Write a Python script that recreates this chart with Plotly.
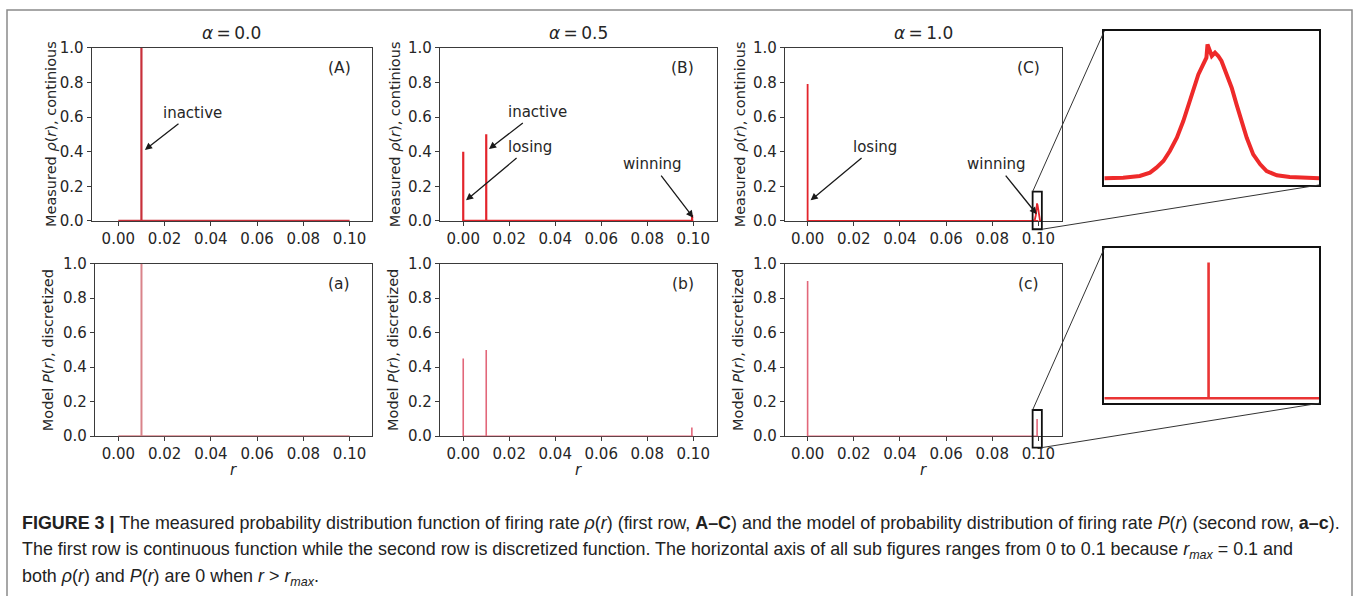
import plotly.graph_objects as go

W, H = 1360, 596

# ---------------- data ----------------
r_ticks = [0.0, 0.02, 0.04, 0.06, 0.08, 0.10]
r_tick_labels = ["0.00", "0.02", "0.04", "0.06", "0.08", "0.10"]
p_ticks = [0.0, 0.2, 0.4, 0.6, 0.8, 1.0]
p_tick_labels = ["0.0", "0.2", "0.4", "0.6", "0.8", "1.0"]

alpha_labels = ["0.0", "0.5", "1.0"]
r_support = [0.0, 0.1]          # rho(r)=P(r)=0 baseline over [0, r_max]

# first row: measured rho(r), continuous
meas_A_r = [0.01]
meas_A_rho = [1.0]
meas_B_r = [0.0, 0.01, 0.0995]
meas_B_rho = [0.40, 0.50, 0.035]
meas_C_r = [0.0]
meas_C_rho = [0.79]
# "winning" bump for alpha = 1.0
bump_r = [0.09750, 0.09785, 0.09816, 0.09835, 0.09847, 0.09860, 0.09872, 0.09885,
          0.09897, 0.09909, 0.09916, 0.09925, 0.09934, 0.09940, 0.09942, 0.09950,
          0.09956, 0.09962, 0.09968, 0.09978, 0.09987, 0.09996, 0.10006, 0.10015,
          0.10027, 0.10040, 0.10052, 0.10071, 0.10095, 0.10150]
bump_rho = [0.0000, 0.0005, 0.0018, 0.0043, 0.0081, 0.0131, 0.0207, 0.0307,
            0.0433, 0.0585, 0.0685, 0.0786, 0.0862, 0.0912, 0.1013, 0.0925,
            0.0950, 0.0925, 0.0887, 0.0786, 0.0685, 0.0559, 0.0433, 0.0307,
            0.0181, 0.0106, 0.0055, 0.0023, 0.0010, 0.0000]

# second row: model P(r), discretized
model_a_r = [0.01]
model_a_P = [1.0]
model_b_r = [0.0, 0.01, 0.0994]
model_b_P = [0.45, 0.50, 0.05]
model_c_r = [0.0, 0.09944]
model_c_P = [0.90, 0.10]

# ---------------- helpers ----------------
def px(x):
    return x / W

def vy(T):
    # vertical placement (target pixel from top -> paper fraction)
    return 1 - ((T - 8.0) / 0.97) / H

def spikes(rs, vals):
    xs, ys = [r_support[0], r_support[1], None], [0, 0, None]
    for r, v in zip(rs, vals):
        xs += [r, r, None]
        ys += [0, v, None]
    return xs, ys

TOP_RED = "#e3242b"
BOT_RED = "#e2677a"
INK = "#262626"
SPINE = "#3a3a3a"
TICK_SIZE = 15

# panel geometry (target pixels)
top_y = (46.7, 220.0)
bot_y = (262.7, 435.3)
panels = {
    "A": dict(ax=1, x=(91.7, 372.0), y=top_y, rng=[-0.0115, 0.1097]),
    "B": dict(ax=2, x=(440.0, 716.7), y=top_y, rng=[-0.0101, 0.1102]),
    "C": dict(ax=3, x=(785.0, 1061.7), y=top_y, rng=[-0.0098, 0.1101]),
    "a": dict(ax=4, x=(95.0, 372.0), y=bot_y, rng=[-0.0101, 0.1097]),
    "b": dict(ax=5, x=(440.0, 716.7), y=bot_y, rng=[-0.0101, 0.1102]),
    "c": dict(ax=6, x=(785.0, 1061.7), y=bot_y, rng=[-0.0098, 0.1101]),
}
inset_x = (1104.3, 1319.3)
inset_top_y = (30.0, 184.0)
inset_bot_y = (247.3, 402.3)
inset_r_range = [0.0975, 0.1015]

fig = go.Figure()
layout = {}

def axname(i, kind):
    return kind + ("" if i == 1 else str(i))

for key, p in panels.items():
    i = p["ax"]
    layout[axname(i, "xaxis")] = dict(
        domain=[px(p["x"][0]), px(p["x"][1])], range=p["rng"], anchor=axname(i, "y"),
        tickvals=r_ticks, ticktext=r_tick_labels, ticks="outside", ticklen=4,
        tickwidth=1.1, tickcolor=SPINE, showline=True, linecolor=SPINE, linewidth=1.2,
        mirror=True, showgrid=False, zeroline=False, layer="below traces",
        tickfont=dict(family="DejaVu Sans", size=TICK_SIZE, color=INK), fixedrange=True)
    layout[axname(i, "yaxis")] = dict(
        domain=[vy(p["y"][1]), vy(p["y"][0])], range=[0, 1], anchor=axname(i, "x"),
        tickvals=p_ticks, ticktext=p_tick_labels, ticks="outside", ticklen=4,
        tickwidth=1.1, tickcolor=SPINE, showline=True, linecolor=SPINE, linewidth=1.2,
        mirror=True, showgrid=False, zeroline=False, layer="below traces",
        tickfont=dict(family="DejaVu Sans", size=TICK_SIZE, color=INK), fixedrange=True)

for i, (yy, yr) in zip([7, 8], [(inset_top_y, [-0.005, 0.1114]), (inset_bot_y, [-0.0037, 0.1106])]):
    layout[axname(i, "xaxis")] = dict(
        domain=[px(inset_x[0]), px(inset_x[1])], range=inset_r_range, anchor=axname(i, "y"),
        showticklabels=False, ticks="", showline=True, linecolor="#111", linewidth=2.4,
        mirror=True, showgrid=False, zeroline=False, fixedrange=True)
    layout[axname(i, "yaxis")] = dict(
        domain=[vy(yy[1]), vy(yy[0])], range=yr, anchor=axname(i, "x"),
        showticklabels=False, ticks="", showline=True, linecolor="#111", linewidth=2.4,
        mirror=True, showgrid=False, zeroline=False, fixedrange=True)

def add_line(xs, ys, i, color, width):
    fig.add_trace(go.Scatter(x=xs, y=ys, mode="lines", line=dict(color=color, width=width),
                             xaxis=axname(i, "x"), yaxis=axname(i, "y"),
                             hoverinfo="skip", showlegend=False, connectgaps=False))

xs, ys = spikes(meas_A_r, meas_A_rho); add_line(xs, ys, 1, "#c8303a", 2.2)
xs, ys = spikes(meas_B_r, meas_B_rho); add_line(xs, ys, 2, TOP_RED, 2.2)
xs, ys = spikes(meas_C_r, meas_C_rho); add_line(xs, ys, 3, TOP_RED, 1.8)
add_line(bump_r, bump_rho, 3, TOP_RED, 1.8)
xs, ys = spikes(model_a_r, model_a_P); add_line(xs, ys, 4, "#d9838a", 2.0)
xs, ys = spikes(model_b_r, model_b_P); add_line(xs, ys, 5, BOT_RED, 1.6)
xs, ys = spikes(model_c_r, model_c_P); add_line(xs, ys, 6, BOT_RED, 1.6)
# zoomed insets
add_line(bump_r, bump_rho, 7, "#ee2a2a", 4.0)
xs = [inset_r_range[0], inset_r_range[1], None, model_c_r[1], model_c_r[1]]
ys = [0, 0, None, 0, model_c_P[1]]
add_line(xs, ys, 8, "#ea3434", 2.6)

annotations = []
shapes = []

for key, lab in zip(["A", "B", "C"], alpha_labels):
    p = panels[key]
    annotations.append(dict(xref="paper", yref="paper", x=px((p["x"][0] + p["x"][1]) / 2),
                            y=vy(32), text=f"<i>α</i>\u2009=\u2009{lab}", showarrow=False,
                            font=dict(family="DejaVu Sans", size=17, color=INK),
                            xanchor="center", yanchor="middle"))

ytitle_x = {"A": 51.7, "B": 395.0, "C": 740.0, "a": 48.3, "b": 393.0, "c": 738.0}
for key, p in panels.items():
    txt = ("Measured <i>ρ</i>(<i>r</i>), continious" if key.isupper()
           else "Model <i>P</i>(<i>r</i>), discretized")
    annotations.append(dict(xref="paper", yref="paper", x=px(ytitle_x[key]),
                            y=vy((p["y"][0] + p["y"][1]) / 2), text=txt, showarrow=False,
                            textangle=-90, font=dict(family="DejaVu Sans", size=14.5, color=INK),
                            xanchor="center", yanchor="middle"))
    i = p["ax"]
    annotations.append(dict(xref=axname(i, "x"), yref=axname(i, "y"), x=0.0955,
                            y=0.885 if key.isupper() else 0.88, text=f"({key})",
                            showarrow=False, font=dict(family="DejaVu Sans", size=15.5, color=INK),
                            xanchor="center", yanchor="middle"))
    if key.islower():
        annotations.append(dict(xref="paper", yref="paper", x=px((p["x"][0] + p["x"][1]) / 2),
                                y=vy(469), text="<i>r</i>", showarrow=False,
                                font=dict(family="DejaVu Sans", size=15, color=INK),
                                xanchor="center", yanchor="middle"))

arrows = [
    (1, "inactive", 0.0322, 0.625, 0.0115, 0.41),
    (2, "inactive", 0.0322, 0.629, 0.0112, 0.415),
    (2, "losing", 0.0290, 0.427, 0.0012, 0.119),
    (2, "winning", 0.0823, 0.327, 0.1000, 0.019),
    (3, "losing", 0.0292, 0.427, 0.0013, 0.119),
    (3, "winning", 0.0819, 0.327, 0.0993, 0.039),
]
for i, t, tx, ty, hx, hy in arrows:
    annotations.append(dict(xref=axname(i, "x"), yref=axname(i, "y"),
                            axref=axname(i, "x"), ayref=axname(i, "y"),
                            x=hx, y=hy, ax=tx, ay=ty, text=t, showarrow=True,
                            arrowhead=2, arrowsize=1.1, arrowwidth=1.3, arrowcolor="#1a1a1a",
                            standoff=0, startstandoff=1,
                            font=dict(family="DejaVu Sans", size=15, color=INK)))

def data_to_px(key, r, v):
    p = panels[key]
    x0, x1 = p["x"]
    r0, r1 = p["rng"]
    X = x0 + (r - r0) / (r1 - r0) * (x1 - x0)
    Y = p["y"][1] - v * (p["y"][1] - p["y"][0])
    return X, Y

for key, vr, iy in [("C", (-0.048, 0.169), inset_top_y), ("c", (-0.066, 0.152), inset_bot_y)]:
    bx0, by0 = data_to_px(key, inset_r_range[0], vr[1])
    bx1, by1 = data_to_px(key, inset_r_range[1], vr[0])
    shapes.append(dict(type="rect", xref="paper", yref="paper", x0=px(bx0), x1=px(bx1),
                       y0=vy(by1), y1=vy(by0), line=dict(color="#111", width=1.8)))
    shapes.append(dict(type="line", xref="paper", yref="paper", x0=px(bx0), y0=vy(by0),
                       x1=px(inset_x[0]), y1=vy(iy[0]), line=dict(color="#333", width=1)))
    shapes.append(dict(type="line", xref="paper", yref="paper", x0=px(bx1), y0=vy(by1),
                       x1=px(inset_x[1]), y1=vy(iy[1]), line=dict(color="#333", width=1)))

# outer figure frame (top edge kept just inside the page)
shapes.append(dict(type="rect", xref="paper", yref="paper", x0=px(7), x1=px(1352),
                   y0=-0.1, y1=1 - 1.0 / H, line=dict(color="#8a8a8a", width=1.5)))

cap_font = dict(family="Liberation Sans Narrow, Liberation Sans, Arial", size=17.9, color="#222")
caption = [
    "<b>FIGURE 3 |</b> The measured probability distribution function of firing rate <i>ρ</i>(<i>r</i>) "
    "(first row, <b>A–C</b>) and the model of probability distribution of firing rate <i>P</i>(<i>r</i>) "
    "(second row, <b>a–c</b>).",
    "The first row is continuous function while the second row is discretized function. The horizontal "
    "axis of all sub figures ranges from 0 to 0.1 because <i>r</i><sub><i>max</i></sub> = 0.1 and",
    "both <i>ρ</i>(<i>r</i>) and <i>P</i>(<i>r</i>) are 0 when <i>r</i> &gt; <i>r</i><sub><i>max</i></sub>.",
]
for txt, yline in zip(caption, [522, 549.5, 577]):
    annotations.append(dict(xref="paper", yref="paper", x=px(20), y=vy(yline), text=txt,
                            showarrow=False, xanchor="left", yanchor="middle", font=cap_font))

layout.update(dict(width=W, height=H, margin=dict(l=0, r=0, t=0, b=0),
                   paper_bgcolor="white", plot_bgcolor="white",
                   annotations=annotations, shapes=shapes, showlegend=False))
fig.update_layout(**layout)
fig.write_html("out.html", config={"displayModeBar": False},
               post_script=("document.documentElement.style.margin='0';"
                            "document.body.style.margin='0';document.body.style.padding='0';"
                            "document.documentElement.style.overflow='hidden';"
                            "document.body.style.overflow='hidden';"))
